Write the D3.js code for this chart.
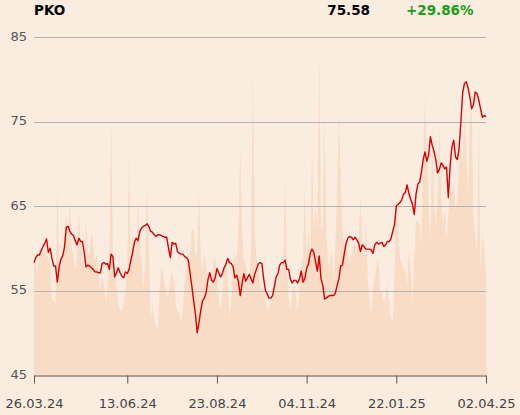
<!DOCTYPE html>
<html><head><meta charset="utf-8">
<script src="https://cdn.jsdelivr.net/npm/d3@7"></script>
<style>
html,body{margin:0;padding:0;background:#fbece0;}
svg{display:block;}
text{font-family:"DejaVu Sans",sans-serif;}
</style>
</head><body>
<svg id="chart" width="520" height="415"></svg>
<script>
const ticker = "PKO";
const lastPrice = "75.58";
const changeText = "+29.86%";
const tickLabels = ["26.03.24","13.06.24","23.08.24","04.11.24","22.01.25","02.04.25"];
const tickIndex = [0,52,102,152,202,252];
const yTicks = [45,55,65,75,85];

const prices = [
58.3,58.9,59.2,59.2,59.7,60.2,60.6,61.1,59.5,60.0,
58.8,57.9,57.9,56.0,57.8,58.7,59.1,60.1,62.5,62.6,
62.0,61.7,61.5,60.9,60.4,61.2,60.8,60.8,59.5,57.8,
58.0,57.9,57.7,57.5,57.2,57.2,57.1,57.1,58.2,58.3,
58.1,58.2,57.5,59.3,59.0,56.6,57.1,57.7,57.1,56.7,
56.5,57.2,57.0,57.5,
58.6,59.5,60.7,61.2,60.9,62.0,62.4,62.6,62.7,62.9,
62.6,62.0,61.9,61.6,61.4,61.6,61.6,61.5,61.4,61.3,
61.3,60.0,58.9,60.7,60.5,60.6,59.6,59.4,59.3,59.3,
59.0,58.9,58.6,57.1,55.5,53.8,52.2,50.0,51.2,52.7,
53.8,54.1,54.8,56.3,57.1,56.2,56.0,56.5,57.6,57.1,
56.6,57.0,57.7,58.1,58.8,58.3,58.2,57.8,56.5,56.8,
56.0,54.4,55.8,57.0,56.1,56.5,56.9,56.4,55.9,56.9,
57.5,58.1,58.3,58.2,56.5,55.0,54.6,54.1,54.1,54.4,
55.4,56.6,57.0,58.0,58.3,58.3,58.6,57.5,57.5,56.3,
55.9,56.2,56.2,55.9,56.4,57.3,56.0,56.4,57.6,58.1,
59.4,59.9,
59.5,58.4,57.3,59.1,56.4,55.6,54.0,54.1,54.3,54.4,
54.4,54.4,54.7,55.6,56.4,57.9,58.0,59.4,60.6,61.2,
61.4,61.3,61.0,61.3,61.0,60.6,59.6,60.4,60.2,59.9,
59.9,59.9,59.8,59.4,60.4,60.7,60.5,60.6,60.7,60.2,
60.4,60.8,60.8,61.1,62.0,62.8,65.0,65.2,65.4,65.7,
66.4,66.6,67.5,66.5,65.8,65.2,64.0,66.4,67.6,67.8,
69.0,70.5,71.4,70.3,71.0,73.2,72.2,71.5,70.5,68.9,
69.3,70.1,69.8,69.4,69.6,66.0,69.8,72.0,72.8,70.8,
70.5,71.8,75.0,78.4,79.5,79.7,79.0,77.9,76.5,77.0,
78.5,78.3,77.5,76.5,75.5,75.7,75.58
];

const volumes = [
3.98,3.9,3.55,4.6,4.4,4.3,4.4,4.2,4.15,3.9,
2.65,2.65,2.55,6.7,4.0,4.2,4.4,5.0,5.65,4.8,
6.15,4.55,4.2,3.7,4.25,5.8,4.8,4.1,3.7,5.5,
4.45,4.2,5.15,4.55,4.1,4.25,3.55,3.1,3.5,3.25,
2.55,3.0,4.0,9.15,4.2,3.7,3.1,2.55,2.3,2.25,
2.5,3.1,3.6,8.05,
3.7,5.3,4.0,4.6,6.1,4.7,4.0,3.0,4.0,6.7,
4.7,1.95,2.55,2.05,1.7,1.6,3.0,3.85,3.6,3.25,
2.75,2.9,3.5,3.7,3.25,2.55,2.2,2.3,1.85,2.3,
3.2,4.1,3.7,4.25,5.15,5.2,4.1,4.45,6.55,4.1,
3.7,4.35,3.9,3.35,3.1,3.35,4.0,4.2,3.6,2.75,
2.3,2.75,3.7,4.2,3.5,2.0,2.65,3.9,4.35,4.0,
5.15,8.05,5.15,4.0,4.0,3.6,3.35,4.45,10.95,5.15,
4.25,3.9,3.35,3.0,3.1,2.75,2.3,2.4,2.55,3.1,
3.5,3.0,3.25,3.9,3.5,4.2,7.2,4.0,2.75,2.3,
3.0,3.2,2.85,2.25,3.0,3.85,4.15,6.7,4.2,5.15,
4.0,8.1,
5.15,5.95,5.15,11.4,5.3,5.15,9.35,5.0,3.9,4.0,
4.35,3.35,4.6,6.55,9.35,6.9,5.15,4.55,4.9,4.2,
4.0,4.35,4.45,4.7,4.45,4.8,6.3,4.8,4.0,5.55,
3.5,2.65,2.15,3.0,3.55,3.9,4.1,3.0,2.9,2.55,
2.75,3.25,2.55,2.05,1.85,3.55,6.55,5.15,4.1,4.0,
3.7,3.8,3.1,4.5,3.7,2.5,4.25,5.45,5.5,5.3,
4.6,7.6,9.95,7.8,6.2,4.6,8.9,6.05,5.3,6.3,
8.9,6.4,5.3,5.85,4.8,5.7,6.55,6.45,6.9,5.85,
6.05,7.55,8.15,7.6,9.3,7.8,6.45,9.05,9.65,5.5,
4.95,4.35,9.15,3.6,5.1,4.45,3.6
];

const W = 520, H = 415;
const m = {left:34, right:34, top:37, bottom:40};
const svg = d3.select("#chart");

const x = d3.scaleLinear().domain([0, prices.length - 1]).range([m.left, W - m.right]);
const y = d3.scaleLinear().domain([45, 85]).range([H - m.bottom, m.top]);
const yv = d3.scaleLinear().domain([0, 12]).range([H - m.bottom, m.top]);

svg.append("rect").attr("width", W).attr("height", H).attr("fill", "#fbece0");

// volume area
svg.append("path")
  .datum(volumes)
  .attr("fill", "#f8dcc6")
  .attr("d", d3.area().x((d, i) => x(i)).y0(yv(0)).y1(d => yv(d)));

// gridlines
svg.append("g").selectAll("line")
  .data(yTicks.filter(t => t !== 45))
  .join("line")
  .attr("x1", m.left).attr("x2", W - m.right)
  .attr("y1", d => Math.round(y(d)) + 0.5).attr("y2", d => Math.round(y(d)) + 0.5)
  .attr("stroke", "#b3b3b3").attr("stroke-width", 1);

// y labels
svg.append("g").selectAll("text")
  .data(yTicks)
  .join("text")
  .attr("x", 27).attr("y", d => y(d) - 1)
  .attr("dy", "0.35em")
  .attr("text-anchor", "end")
  .attr("font-size", 13)
  .attr("fill", "#555")
  .text(d => d);

// price line
svg.append("path")
  .datum(prices)
  .attr("fill", "none")
  .attr("stroke", "#d80000")
  .attr("stroke-width", 1.4)
  .attr("stroke-linejoin", "round")
  .attr("d", d3.line().x((d, i) => x(i)).y(d => y(d)));

// x axis
const xAxis = d3.axisBottom(x)
  .tickValues(tickIndex)
  .tickFormat((d, i) => tickLabels[i])
  .tickSize(8)
  .tickSizeOuter(0)
  .tickPadding(15);
const gx = svg.append("g")
  .attr("transform", `translate(0,${Math.round(y(45)) + 0.5})`)
  .call(xAxis);
gx.select(".domain").attr("stroke", "#555");
gx.selectAll(".tick line").attr("stroke", "#555");
gx.selectAll(".tick text")
  .attr("font-family", "DejaVu Sans, sans-serif")
  .attr("font-size", 13)
  .attr("fill", "#444");

// header
svg.append("text").attr("x", 34).attr("y", 15)
  .attr("font-weight", "bold").attr("font-size", 13.5).attr("fill", "#000").text(ticker);
svg.append("text").attr("x", 370).attr("y", 15).attr("text-anchor", "end")
  .attr("font-weight", "bold").attr("font-size", 13.5).attr("fill", "#000").text(lastPrice);
svg.append("text").attr("x", 406).attr("y", 15)
  .attr("font-weight", "bold").attr("font-size", 13.5).attr("fill", "#1a9e1a").text(changeText);
</script>
</body></html>
